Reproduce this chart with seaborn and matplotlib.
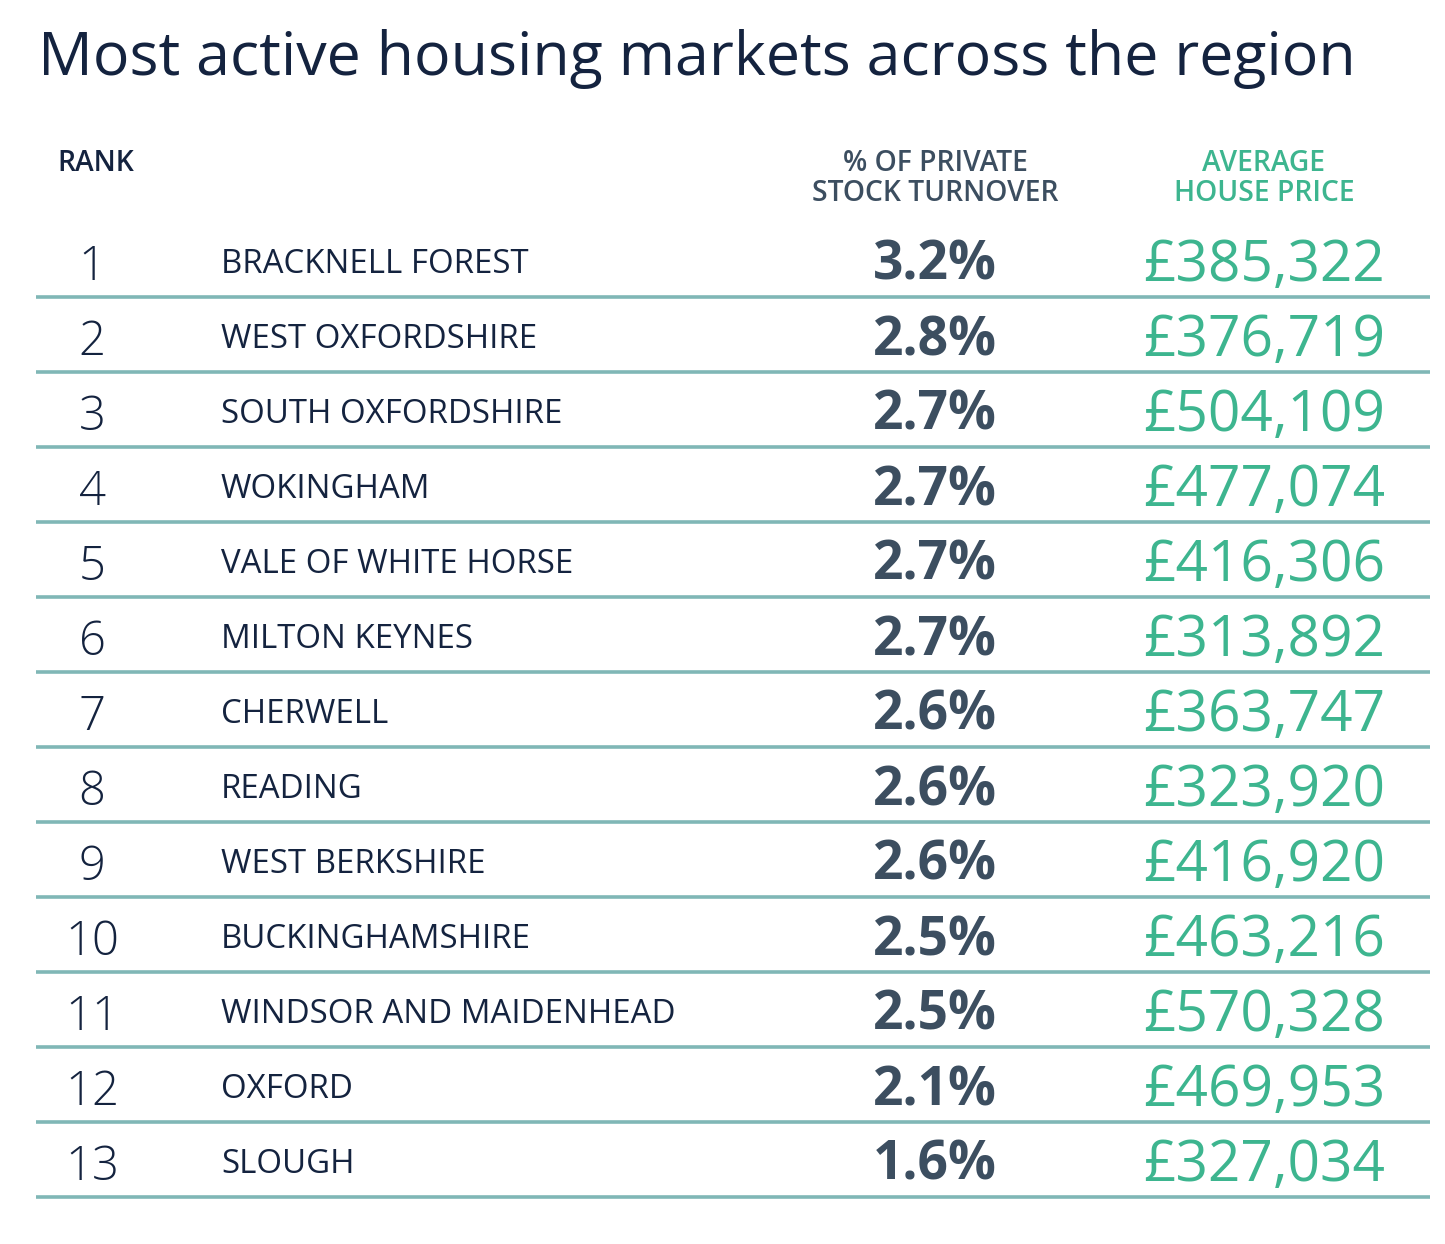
import matplotlib
matplotlib.use("Agg")
import matplotlib.pyplot as plt
import seaborn as sns
import pandas as pd

# ---- data ----
ranks = [1, 2, 3, 4, 5, 6, 7, 8, 9, 10, 11, 12, 13]
areas = ["BRACKNELL FOREST", "WEST OXFORDSHIRE", "SOUTH OXFORDSHIRE", "WOKINGHAM",
         "VALE OF WHITE HORSE", "MILTON KEYNES", "CHERWELL", "READING",
         "WEST BERKSHIRE", "BUCKINGHAMSHIRE", "WINDSOR AND MAIDENHEAD", "OXFORD", "SLOUGH"]
turnover_pct = [3.2, 2.8, 2.7, 2.7, 2.7, 2.7, 2.6, 2.6, 2.6, 2.5, 2.5, 2.1, 1.6]
avg_price = [385322, 376719, 504109, 477074, 416306, 313892, 363747, 323920,
             416920, 463216, 570328, 469953, 327034]
title = "Most active housing markets across the region"
hdr_rank = "RANK"
hdr_pct = ["% OF PRIVATE", "STOCK TURNOVER"]
hdr_price = ["AVERAGE", "HOUSE PRICE"]

df = pd.DataFrame({"rank": ranks, "area": areas, "pct": turnover_pct, "price": avg_price})

# ---- style ----
sns.set_theme(style="white")
FONT = "Open Sans"
plt.rcParams["font.family"] = [FONT, "DejaVu Sans"]

NAVY = "#14233f"
SLATE = "#3c4e60"
GREEN = "#3db58f"
RULE = "#80b7b6"

W, H = 1445, 1244
fig = plt.figure(figsize=(W / 100, H / 100), dpi=100)
ax = fig.add_axes([0, 0, 1, 1])
ax.set_xlim(0, W)
ax.set_ylim(H, 0)
ax.axis("off")
renderer = fig.canvas.get_renderer()


def fit_size(s, target_w, weight="normal", base=20):
    t = ax.text(0, 0, s, fontsize=base, fontweight=weight)
    w = t.get_window_extent(renderer).width
    t.remove()
    return base * target_w / w


# geometry (pixels)
row0, step = 262, 75
x_rank, x_name, x_pct, x_price = 92, 221, 935, 1264
line_x0, line_x1 = 36, 1430

# title
ts = fit_size(title, 1314, "normal")
ax.text(38, 75, title, fontsize=ts, color=NAVY, ha="left", va="baseline")

# headers
hs = fit_size("STOCK TURNOVER", 247, "semibold")
ax.text(57, 171, hdr_rank, fontsize=hs, fontweight="semibold", color=NAVY,
        ha="left", va="baseline")
for i, (a, b) in enumerate(zip(hdr_pct, hdr_price)):
    yb = 171 + 30 * i
    ax.text(x_pct, yb, a, fontsize=hs, fontweight="semibold", color=SLATE,
            ha="center", va="baseline")
    ax.text(x_price, yb, b, fontsize=hs, fontweight="semibold", color=GREEN,
            ha="center", va="baseline")

# column sizes
ns = fit_size("WINDSOR AND MAIDENHEAD", 455, "normal")
ps = fit_size("3.2%", 124, "bold")
prs = fit_size("£385,322", 241, "normal")
rs = 34

ys = [row0 + step * i for i in range(len(df))]
for y, r in zip(ys, df.itertuples()):
    ax.text(x_rank, y + 18, str(r.rank), fontsize=rs, fontweight="light", color=NAVY,
            ha="center", va="baseline")
    ax.text(x_name, y + 11, r.area, fontsize=ns, color=NAVY, ha="left", va="baseline")
    ax.text(x_pct, y + 18, f"{r.pct:.1f}%", fontsize=ps, fontweight="bold", color=SLATE,
            ha="center", va="baseline")
    ax.text(x_price, y + 19, f"£{r.price:,}", fontsize=prs, color=GREEN,
            ha="center", va="baseline")

rule_y = [y + 35 for y in ys]
ax.hlines(rule_y, line_x0, line_x1, colors=RULE, linewidth=2.6)

fig.savefig("out.png", dpi=100, facecolor="white")
